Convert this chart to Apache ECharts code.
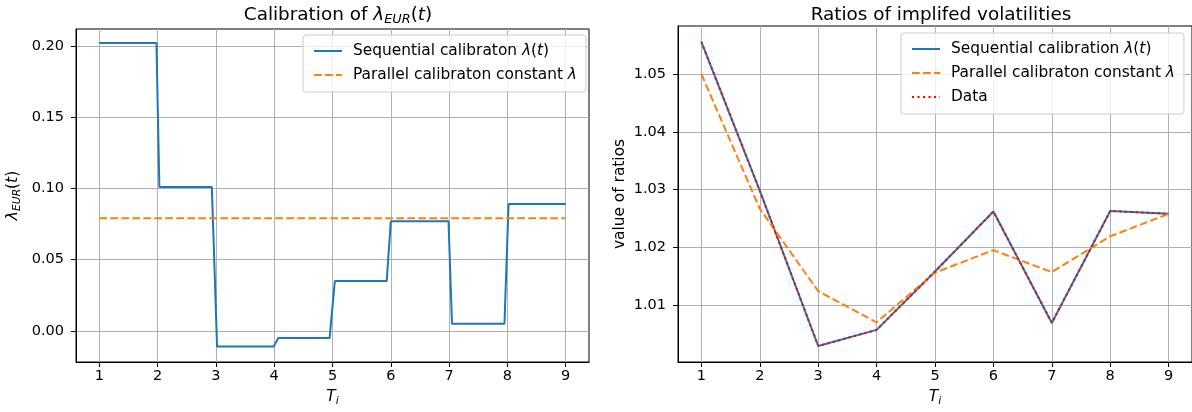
<!DOCTYPE html>
<html>
<head>
<meta charset="utf-8">
<script src="https://cdn.jsdelivr.net/npm/echarts@6/dist/echarts.min.js"></script>
<style>
html,body{margin:0;padding:0;background:#fff;}
#chart{width:1192px;height:412px;}
</style>
</head>
<body>
<div id="chart"></div>
<script>
// ---- Left panel: calibration of lambda_EUR(t) ----
const seqT = [1, 1.98, 2.03, 2.93, 3.02, 3.99, 4.07, 4.95, 5.04, 5.93, 6.0, 6.99, 7.05, 7.95, 8.02, 9];
const seqLambda = [0.202, 0.202, 0.101, 0.101, -0.011, -0.011, -0.005, -0.005, 0.035, 0.035, 0.077, 0.077, 0.005, 0.005, 0.089, 0.089];
const constT = [1, 9];
const constLambda = [0.079, 0.079];

// ---- Right panel: ratios of implied volatilities ----
const maturities = [1, 2, 3, 4, 5, 6, 7, 8, 9];
const seqRatios = [1.0556, 1.0298, 1.0029, 1.0057, 1.0158, 1.0262, 1.0069, 1.0263, 1.0258];
const parRatios = [1.0500, 1.0267, 1.0124, 1.0070, 1.0156, 1.0195, 1.0157, 1.0219, 1.0258];
const dataRatios = [1.0556, 1.0298, 1.0029, 1.0057, 1.0158, 1.0262, 1.0069, 1.0263, 1.0258];

// tick labels
const xTicks = [1, 2, 3, 4, 5, 6, 7, 8, 9];
const leftYTicks = [0.00, 0.05, 0.10, 0.15, 0.20];
const rightYTicks = [1.01, 1.02, 1.03, 1.04, 1.05];

const FONT = 'DejaVu Sans';
const BLUE = '#1f77b4', ORANGE = '#ff7f0e', RED = '#ff0000';
const GRIDC = '#b0b0b0';
const TICKFS = 14.5, LABFS = 15.4, TITLEFS = 18.4;

function pairs(xs, ys){ return xs.map((x,i)=>[x, ys[i]]); }

function richSet(size, shift){
  return {
    n: {fontFamily: FONT, fontSize: size, fontWeight: 'normal', color: '#000', verticalAlign: 'top', lineHeight: size*1.25},
    i: {fontFamily: FONT, fontSize: size, fontWeight: 'normal', fontStyle: 'italic', color: '#000', verticalAlign: 'top', lineHeight: size*1.25},
    s: {fontFamily: FONT, fontSize: size*0.7, fontWeight: 'normal', fontStyle: 'italic', color: '#000', verticalAlign: 'top', lineHeight: size*1.25*0.7, padding: [shift,0,0,0]}
  };
}

const legendNames = {
  'Sequential calibraton λ(t)': 'Sequential calibraton {i|λ}({i|t})',
  'Parallel calibraton constant λ': 'Parallel calibraton constant {i|λ}',
  'Sequential calibration λ(t)': 'Sequential calibration {i|λ}({i|t})',
  'Data': 'Data'
};

function xAxisDef(gi){
  return {
    type: 'value', gridIndex: gi, min: 0.6, max: 9.4,
    name: '{i|T}{s|i}', nameLocation: 'middle', nameGap: 27,
    nameTextStyle: {rich: richSet(LABFS, 7)},
    axisLine: {show: true, onZero: false, lineStyle: {color: '#000', width: 1}},
    axisTick: {show: true, length: 5, lineStyle: {color: '#000', width: 1}, customValues: xTicks},
    axisLabel: {show: true, customValues: xTicks, margin: 7, fontFamily: FONT, fontSize: TICKFS, color: '#000',
      formatter: v => String(Math.round(v))},
    splitLine: {show: true, lineStyle: {color: GRIDC, width: 1}}
  };
}

const legendCommon = {
  orient: 'vertical',
  backgroundColor: 'rgba(255,255,255,0.8)',
  borderColor: '#cccccc', borderWidth: 1, borderRadius: 3,
  itemWidth: 28, itemHeight: 14, itemGap: 6,
  itemStyle: {opacity: 0},
  padding: [7, 9, 8, 10],
  textStyle: {fontFamily: FONT, fontSize: LABFS, lineHeight: 18, color: '#000', padding: [0,0,0,6],
    rich: {i: {fontFamily: FONT, fontSize: LABFS, lineHeight: 18, fontStyle: 'italic', color: '#000'}}},
  formatter: name => legendNames[name] || name
};

const option = {
  animation: false,
  backgroundColor: '#fff',
  title: [
    {text: '{n|Calibration of }{i|λ}{s|EUR}{n|(}{i|t}{n|)}', left: 333, top: 1, textAlign: 'center',
     textStyle: {fontWeight: 'normal', rich: richSet(TITLEFS, 7)}},
    {text: 'Ratios of implifed volatilities', left: 936, top: 1, textAlign: 'center',
     textStyle: {fontFamily: FONT, fontSize: TITLEFS, fontWeight: 'normal', color: '#000'}}
  ],
  legend: [
    Object.assign({}, legendCommon, {left: 303, top: 35,
      data: ['Sequential calibraton λ(t)', 'Parallel calibraton constant λ']}),
    Object.assign({}, legendCommon, {left: 901, top: 33,
      data: ['Sequential calibration λ(t)', 'Parallel calibraton constant λ', 'Data']})
  ],
  grid: [
    {left: 76, top: 29, width: 513, height: 333, show: true, borderColor: '#000', borderWidth: 1, backgroundColor: 'transparent'},
    {left: 678, top: 26, width: 517, height: 336, show: true, borderColor: '#000', borderWidth: 1, backgroundColor: 'transparent'}
  ],
  xAxis: [xAxisDef(0), xAxisDef(1)],
  yAxis: [
    {type: 'value', gridIndex: 0, min: -0.0218, max: 0.2119,
     name: '{i|λ}{s|EUR}{n|(}{i|t}{n|)}', nameLocation: 'middle', nameRotate: 90, nameGap: 51,
     nameTextStyle: {rich: richSet(LABFS, 6)},
     axisLine: {show: true, onZero: false, lineStyle: {color: '#000', width: 1}},
     axisTick: {show: true, length: 5, lineStyle: {color: '#000', width: 1}, customValues: leftYTicks},
     axisLabel: {show: true, customValues: leftYTicks, margin: 12, fontFamily: FONT, fontSize: TICKFS, color: '#000',
       formatter: v => v.toFixed(2)},
     splitLine: {show: true, lineStyle: {color: GRIDC, width: 1}}},
    {type: 'value', gridIndex: 1, min: 1.00013, max: 1.05833,
     name: 'value of ratios', nameLocation: 'middle', nameRotate: 90, nameGap: 51,
     nameTextStyle: {fontFamily: FONT, fontSize: LABFS, color: '#000'},
     axisLine: {show: true, onZero: false, lineStyle: {color: '#000', width: 1}},
     axisTick: {show: true, length: 5, lineStyle: {color: '#000', width: 1}, customValues: rightYTicks},
     axisLabel: {show: true, customValues: rightYTicks, margin: 12, fontFamily: FONT, fontSize: TICKFS, color: '#000',
       formatter: v => v.toFixed(2)},
     splitLine: {show: true, lineStyle: {color: GRIDC, width: 1}}}
  ],
  series: [
    {name: 'Sequential calibraton λ(t)', type: 'line', xAxisIndex: 0, yAxisIndex: 0, symbol: 'none',
     data: pairs(seqT, seqLambda), lineStyle: {color: BLUE, width: 2}, itemStyle: {color: BLUE}},
    {name: 'Parallel calibraton constant λ', type: 'line', xAxisIndex: 0, yAxisIndex: 0, symbol: 'none',
     data: pairs(constT, constLambda), lineStyle: {color: ORANGE, width: 2, type: [7.7, 3.3]}, itemStyle: {color: ORANGE}},
    {name: 'Sequential calibration λ(t)', type: 'line', xAxisIndex: 1, yAxisIndex: 1, symbol: 'none',
     data: pairs(maturities, seqRatios), lineStyle: {color: BLUE, width: 2}, itemStyle: {color: BLUE}},
    {name: 'Parallel calibraton constant λ', type: 'line', xAxisIndex: 1, yAxisIndex: 1, symbol: 'none',
     data: pairs(maturities, parRatios), lineStyle: {color: ORANGE, width: 2, type: [7.7, 3.3]}, itemStyle: {color: ORANGE}},
    {name: 'Data', type: 'line', xAxisIndex: 1, yAxisIndex: 1, symbol: 'none',
     data: pairs(maturities, dataRatios), lineStyle: {color: RED, width: 2, type: [2.1, 3.4]}, itemStyle: {color: RED}}
  ]
};

const chart = echarts.init(document.getElementById('chart'), null, {renderer: 'canvas'});
chart.setOption(option);
</script>
</body>
</html>
